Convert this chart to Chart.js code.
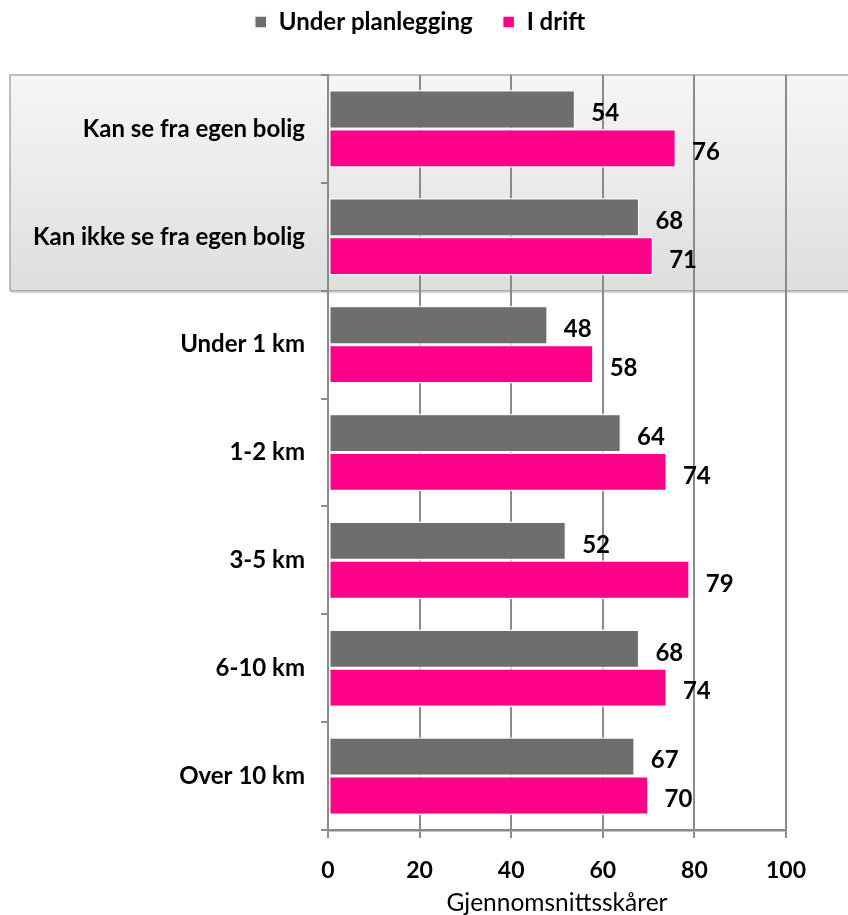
<!DOCTYPE html>
<html>
<head>
<meta charset="utf-8">
<script src="https://cdn.jsdelivr.net/npm/chart.js@4.4.1/dist/chart.umd.min.js"></script>
<style>
  html, body { margin: 0; padding: 0; background: #ffffff; }
  #wrap { width: 848px; height: 915px; position: relative; }
</style>
</head>
<body>
<div id="wrap"><canvas id="c"></canvas></div>
<script>
const categories = ["Kan se fra egen bolig", "Kan ikke se fra egen bolig", "Under 1 km", "1-2 km", "3-5 km", "6-10 km", "Over 10 km"];
const seriesNames = ["Under planlegging", "I drift"];
const underPlanlegging = [54, 68, 48, 64, 52, 68, 67];
const iDrift = [76, 71, 58, 74, 79, 74, 70];
const xTicks = [0, 20, 40, 60, 80, 100];
const axisTitle = "Gjennomsnittsskårer";
const highlightedCount = 2;

const FONT = "Lato, 'Open Sans', sans-serif";
const GRID = "#8a8a8a";

const boxPlugin = {
  id: 'highlightBox',
  beforeDraw(chart) {
    const y = chart.scales.y;
    const ctx = chart.ctx;
    const p0 = y.getPixelForValue(0);
    const p1 = y.getPixelForValue(1);
    const band = p1 - p0;
    const top = p0 - band / 2;
    const bottom = y.getPixelForValue(highlightedCount - 1) + band / 2;
    const left = 10, right = chart.width + 2;
    ctx.save();
    ctx.fillStyle = 'rgba(0,0,0,0.15)';
    ctx.fillRect(left + 1, top + 2.5, right - left, bottom - top);
    const g = ctx.createLinearGradient(0, top, 0, bottom);
    g.addColorStop(0, '#f6f6f6');
    g.addColorStop(1, '#dedede');
    ctx.fillStyle = g;
    ctx.fillRect(left, top, right - left, bottom - top);
    ctx.strokeStyle = '#ababab';
    ctx.lineWidth = 1.5;
    ctx.strokeRect(left, top, right - left, bottom - top);
    ctx.restore();
  }
};

const valueLabels = {
  id: 'valueLabels',
  afterDatasetsDraw(chart) {
    const ctx = chart.ctx;
    ctx.save();
    ctx.font = "bold 24px " + FONT;
    ctx.fillStyle = '#000';
    ctx.textAlign = 'left';
    ctx.textBaseline = 'middle';
    chart.data.datasets.forEach((ds, di) => {
      const meta = chart.getDatasetMeta(di);
      meta.data.forEach((el, i) => {
        ctx.fillText(String(ds.data[i]), el.x + 16, el.y + 4);
      });
    });
    ctx.restore();
  }
};

const legendSpacer = {
  id: 'legendSpacer',
  beforeInit(chart) {
    const lg = chart.legend;
    const origFit = lg.fit;
    lg.fit = function () {
      origFit.bind(lg)();
      this.height += 31;
    };
    const origDraw = lg.draw;
    lg.draw = function () {
      const ctx = chart.ctx;
      ctx.save();
      ctx.translate(27, 0);
      origDraw.bind(lg)();
      ctx.restore();
    };
  }
};

new Chart(document.getElementById('c'), {
  type: 'bar',
  data: {
    labels: categories,
    datasets: [
      { label: seriesNames[0], data: underPlanlegging, backgroundColor: '#6e6e6e',
        borderColor: '#fafafa', borderWidth: 1.5, borderSkipped: false },
      { label: seriesNames[1], data: iDrift, backgroundColor: '#ff0088',
        borderColor: '#fafafa', borderWidth: 1.5, borderSkipped: false }
    ]
  },
  options: {
    indexAxis: 'y',
    responsive: true,
    maintainAspectRatio: false,
    animation: false,
    layout: { padding: { top: -20, right: 62, bottom: 0, left: 0 } },
    datasets: { bar: { categoryPercentage: 0.72, barPercentage: 1.0 } },
    plugins: {
      tooltip: { enabled: false },
      legend: {
        position: 'top',
        labels: {
          boxWidth: 12, boxHeight: 12, padding: 30,
          color: '#000',
          font: { family: FONT, size: 24, weight: 'bold' }
        }
      }
    },
    scales: {
      x: {
        min: 0, max: 100,
        afterBuildTicks(s) { s.ticks = xTicks.map(v => ({ value: v })); },
        afterFit(s) { s.height = 85; },
        grid: { color: GRID, lineWidth: 2, tickLength: 8, drawTicks: true },
        border: { display: true, color: GRID, width: 2.5 },
        ticks: { color: '#000', padding: 19, font: { family: FONT, size: 23, weight: 'bold' } },
        title: { display: true, text: axisTitle, color: '#000', padding: { top: 0, bottom: -3 },
                 font: { family: FONT, size: 24.5, weight: 'normal' } }
      },
      y: {
        afterFit(s) { s.width = 328; },
        grid: { drawOnChartArea: false, drawTicks: true, tickLength: 7, color: GRID, lineWidth: 2, offset: true },
        border: { display: true, color: GRID, width: 2 },
        ticks: { color: '#000', padding: 16, font: { family: FONT, size: 24, weight: 'bold' } }
      }
    }
  },
  plugins: [legendSpacer, boxPlugin, valueLabels]
});
</script>
</body>
</html>
